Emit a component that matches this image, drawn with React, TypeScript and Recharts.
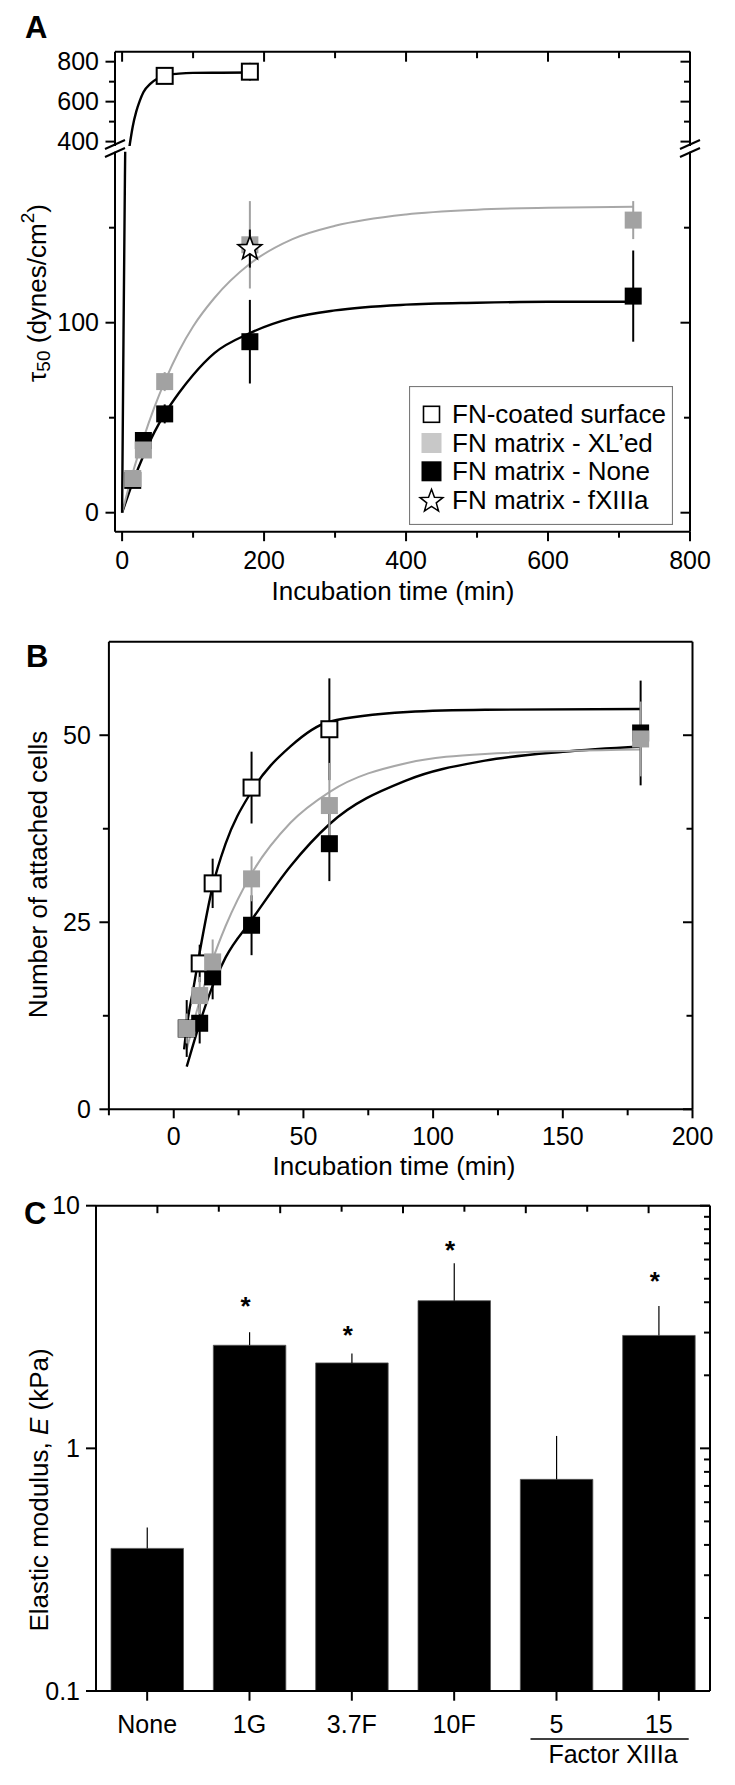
import React from "react";
import { ComposedChart, Line, Scatter, Bar, XAxis, YAxis, ErrorBar, Legend } from "recharts";

const FONT = '"Liberation Sans", Arial, Helvetica, sans-serif';
const INK = "#000";
const GREY = "#a2a2a2";
const GREY_FIT = "#a8a8a8";
const LEGEND_GREY = "#c8c8c8";

// ---------- Panel A: tau50 vs incubation time ----------
const aOpenT = [60, 180];
const aOpenV = [729, 750];
const aOpenE = [38, 44];
const aXlT = [15, 30, 60, 180, 720];
const aXlV = [18, 33, 69, 141, 154];
const aXlE = [4, 4, 5, 23, 10];
const aNoneT = [15, 30, 60, 180, 720];
const aNoneV = [17, 38, 52, 90, 114];
const aNoneE = [2, 3, 5, 22, 24];
const aFxT = [180];
const aFxV = [139];
const aFxE = [10];

const aOpenFitT = [0, 2, 4, 6, 8, 10, 12, 15, 20, 25, 30, 40, 50, 60, 80, 100, 140, 180];
const aOpenFitV = [0, 94, 177, 248, 313, 366, 413, 476, 551, 605, 647, 690, 716, 730, 740, 744, 745, 746];
const aFitT = [0, 15, 30, 45, 60, 80, 100, 130, 180, 240, 300, 400, 500, 600, 720];
const aXlFitV = [0, 21, 39, 55, 69, 85, 98, 113, 131, 144, 151, 157, 159.5, 160.5, 161];
const aNoneFitV = [0, 16, 30, 42, 52, 63, 72.5, 84, 94.5, 102.5, 106.5, 109.5, 110.5, 111, 111];

const aXTicks = [0, 100, 200, 300, 400, 500, 600, 700, 800];
const aXLabels = [0, 200, 400, 600, 800];
const aUpTicks = [400, 500, 600, 700, 800];
const aUpLabels = [400, 600, 800];
const aLoTicks = [0, 50, 100, 150];
const aLoLabels = [0, 100];
const aLegendNames = ["FN-coated surface", "FN matrix - XL\u2019ed", "FN matrix - None", "FN matrix - fXIIIa"];

// ---------- Panel B: attached cells vs incubation time ----------
const bOpenT = [5, 10, 15, 30, 60];
const bOpenV = [10.8, 19.5, 30.2, 43, 50.8];
const bOpenE = [3.8, 2.5, 3.3, 4.8, 6.8];
const bXlT = [5, 10, 15, 30, 60, 180];
const bXlV = [10.8, 15.2, 19.7, 30.8, 40.6, 49.5];
const bXlE = [2, 2.5, 3, 3, 5.7, 5];
const bNoneT = [10, 15, 30, 60, 180];
const bNoneV = [11.5, 17.7, 24.6, 35.5, 50.3];
const bNoneE = [2.7, 3, 4, 5, 7];

const bOpenFitT = [4, 5, 7.5, 10, 15, 20, 30, 45, 60, 90, 120, 180];
const bOpenFitV = [8, 11, 16, 21, 29.8, 35.5, 42.5, 48.5, 51.8, 53.1, 53.4, 53.5];
const bXlFitT = [5, 10, 15, 20, 30, 45, 60, 90, 120, 180];
const bXlFitV = [8, 14.5, 20, 24.5, 31.5, 38.3, 42.4, 46.3, 47.5, 48.1];
const bNoneFitT = [5, 10, 15, 20, 30, 45, 60, 90, 120, 150, 180];
const bNoneFitV = [5.7, 11.5, 16.5, 20.3, 25.3, 32.5, 38.1, 44, 46.6, 47.8, 48.5];

const bXTicks = [-25, 0, 25, 50, 75, 100, 125, 150, 175, 200];
const bXLabels = [0, 50, 100, 150, 200];
const bYTicks = [0, 12.5, 25, 37.5, 50];
const bYLabels = [0, 25, 50];

// ---------- Panel C: elastic modulus ----------
const cCats = ["None", "1G", "3.7F", "10F", "5", "15"];
const cMean = [0.387, 2.66, 2.25, 4.06, 0.745, 2.92];
const cErrUp = [0.085, 0.35, 0.21, 1.73, 0.38, 0.94];
const cSig = [null, 4.05, 3.07, 6.9, null, 5.15];
const cYLabels = [0.1, 1, 10];
const cYTicks = [0.1, 0.2, 0.3, 0.4, 0.5, 0.6, 0.7, 0.8, 0.9, 1, 2, 3, 4, 5, 6, 7, 8, 9, 10];
const cTopTicks = [0.5, 1, 1.5, 2, 2.5, 3, 3.5, 4, 4.5, 5, 5.5];
const cTopMajor = [0.5, 1.5, 2.5, 3.5, 4.5, 5.5];

const pts = (t: number[], v: number[], e?: number[]) => t.map((x, i) => ({ t: x, v: v[i], e: e ? e[i] : 0 }));
const cData = cCats.map((name, i) => ({ name, mean: cMean[i], err: [0, cErrUp[i]], sig: cSig[i] }));

type Side = "left" | "right" | "top" | "bottom";
function tickMaker(side: Side, majors: any[], o: { major?: number; minor?: number; gap?: number; size?: number; show?: boolean } = {}) {
  const major = o.major ?? 9;
  const minor = o.minor ?? 6;
  const gap = o.gap ?? 16;
  const size = o.size ?? 25;
  const show = o.show ?? true;
  return (p: any) => {
    const { x, y, payload } = p;
    const v = payload?.value;
    const isMajor = majors.includes(v);
    const len = isMajor ? major : minor;
    let line: React.ReactNode = null;
    let label: React.ReactNode = null;
    if (side === "left") {
      line = <line x1={x - len} x2={x} y1={y} y2={y} stroke={INK} strokeWidth={2} />;
      if (show && isMajor)
        label = <text x={x - gap} y={y} dy="0.35em" textAnchor="end" fontSize={size} fontFamily={FONT} fill={INK}>{String(v)}</text>;
    } else if (side === "right") {
      line = <line x1={x} x2={x - len} y1={y} y2={y} stroke={INK} strokeWidth={2} />;
    } else if (side === "top") {
      line = <line x1={x} x2={x} y1={y} y2={y + len} stroke={INK} strokeWidth={2} />;
    } else {
      line = <line x1={x} x2={x} y1={y} y2={y + len} stroke={INK} strokeWidth={2} />;
      if (show && isMajor)
        label = <text x={x} y={y + gap} textAnchor="middle" fontSize={size} fontFamily={FONT} fill={INK}>{String(v)}</text>;
    }
    return <g>{line}{label}</g>;
  };
}

const square = (fill: string, stroke?: string) => (p: any) =>
  p.cx == null || p.cy == null ? <g /> : stroke ? (
    <rect x={p.cx - 8} y={p.cy - 8} width={16} height={16} fill={fill} stroke={stroke} strokeWidth={2} />
  ) : (
    <rect x={p.cx - 8.5} y={p.cy - 8.5} width={17} height={17} fill={fill} />
  );

function starPoints(cx: number, cy: number, R: number, r: number) {
  const out: string[] = [];
  for (let i = 0; i < 10; i++) {
    const rad = i % 2 === 0 ? R : r;
    const a = -Math.PI / 2 + (i * Math.PI) / 5;
    out.push(`${cx + rad * Math.cos(a)},${cy + rad * Math.sin(a)}`);
  }
  return out.join(" ");
}
const star = (p: any) => <polygon points={starPoints(p.cx, p.cy, 12.5, 5.2)} fill="#fff" stroke={INK} strokeWidth={1.6} />;

const asterisk = (p: any) =>
  p.payload?.sig == null ? <g /> : (
    <text x={p.cx - 4} y={p.cy + 14} textAnchor="middle" fontSize={26} fontWeight={700} fontFamily={FONT} fill={INK}>*</text>
  );

const axisLine = { stroke: INK, strokeWidth: 2 };

function ALegend() {
  const rows = [414, 442.7, 471, 500].map((y) => y - 385.7);
  return (
    <svg width={264} height={139} style={{ display: "block" }}>
      <rect x={0.5} y={0.5} width={263} height={138} fill="#fff" stroke="#7a7a7a" strokeWidth={1.2} />
      {aLegendNames.map((n, i) => {
        const cy = rows[i];
        let sym: React.ReactNode;
        if (i === 0) sym = <rect x={14.5} y={cy - 8} width={16} height={16} fill="#fff" stroke={INK} strokeWidth={1.6} />;
        else if (i === 1) sym = <rect x={12.5} y={cy - 10} width={20} height={20} fill={LEGEND_GREY} />;
        else if (i === 2) sym = <rect x={12.5} y={cy - 10} width={20} height={20} fill={INK} />;
        else sym = <polygon points={starPoints(22.5, cy + 1, 12, 5)} fill="#fff" stroke={INK} strokeWidth={1.5} />;
        return (
          <g key={n}>
            {sym}
            <text x={43} y={cy} dy="0.35em" fontSize={26} fontFamily={FONT} fill={INK}>{n}</text>
          </g>
        );
      })}
    </svg>
  );
}

// upper part of the broken axis (plot ends at y=146, extra bottom margin keeps the "400" label visible)
function PanelATop() {
  return (
    <ComposedChart width={735} height={164} margin={{ top: 0, right: 0, bottom: 18, left: 0 }}>
      <XAxis xAxisId="x" orientation="top" type="number" dataKey="t" domain={[-10, 800]} allowDataOverflow
        ticks={aXTicks} interval={0} height={51.7} tickSize={0} tickMargin={0} tickLine={false}
        tick={tickMaker("top", aXLabels, { major: 10, minor: 6.5 })} axisLine={axisLine} />
      <YAxis yAxisId="y" type="number" dataKey="v" domain={[378, 850]} allowDataOverflow width={115}
        ticks={aUpTicks} interval={0} tickSize={0} tickMargin={0} tickLine={false}
        tick={tickMaker("left", aUpLabels, { major: 9.5, minor: 6, gap: 16 })} axisLine={axisLine} />
      <YAxis yAxisId="r" orientation="right" type="number" domain={[378, 850]} allowDataOverflow width={45}
        ticks={aUpTicks} interval={0} tickSize={0} tickMargin={0} tickLine={false}
        tick={tickMaker("right", aUpLabels, { major: 9.5, minor: 6 })} axisLine={axisLine} />
      <Line xAxisId="x" yAxisId="y" data={pts(aOpenFitT, aOpenFitV)} dataKey="v" type="monotone" stroke={INK}
        strokeWidth={2.4} dot={false} isAnimationActive={false} />
      <Scatter xAxisId="x" yAxisId="y" data={pts(aOpenT, aOpenV, aOpenE)} dataKey="v" shape={square("#fff", INK)} isAnimationActive={false}>
        <ErrorBar dataKey="e" direction="y" width={0} stroke={INK} strokeWidth={2} />
      </Scatter>
    </ComposedChart>
  );
}

function PanelABottom() {
  return (
    <ComposedChart width={735} height={480} margin={{ top: 5.7, right: 0, bottom: 0, left: 0 }}>
      <XAxis xAxisId="x" type="number" dataKey="t" domain={[-10, 800]} allowDataOverflow
        ticks={aXTicks} interval={0} height={94.3} tickSize={0} tickMargin={0} tickLine={false}
        tick={tickMaker("bottom", aXLabels, { major: 9.5, minor: 6, gap: 37.6 })} axisLine={axisLine} />
      <YAxis yAxisId="y" type="number" dataKey="v" domain={[-10, 190]} allowDataOverflow width={115}
        ticks={aLoTicks} interval={0} tickSize={0} tickMargin={0} tickLine={false}
        tick={tickMaker("left", aLoLabels, { major: 9.5, minor: 6, gap: 16 })} axisLine={axisLine} />
      <YAxis yAxisId="r" orientation="right" type="number" domain={[-10, 190]} allowDataOverflow width={45}
        ticks={aLoTicks} interval={0} tickSize={0} tickMargin={0} tickLine={false}
        tick={tickMaker("right", aLoLabels, { major: 9.5, minor: 6 })} axisLine={axisLine} />
      <Line xAxisId="x" yAxisId="y" data={pts(aFitT, aNoneFitV)} dataKey="v" type="monotone" stroke={INK}
        strokeWidth={2.4} dot={false} isAnimationActive={false} />
      <Line xAxisId="x" yAxisId="y" data={pts(aFitT, aXlFitV)} dataKey="v" type="monotone" stroke={GREY_FIT}
        strokeWidth={2} dot={false} isAnimationActive={false} />
      <Line xAxisId="x" yAxisId="y" data={pts(aOpenFitT, aOpenFitV)} dataKey="v" type="monotone" stroke={INK}
        strokeWidth={2.4} dot={false} isAnimationActive={false} />
      <Scatter xAxisId="x" yAxisId="y" data={pts(aNoneT, aNoneV, aNoneE)} dataKey="v" shape={square(INK)} isAnimationActive={false}>
        <ErrorBar dataKey="e" direction="y" width={0} stroke={INK} strokeWidth={2} />
      </Scatter>
      <Scatter xAxisId="x" yAxisId="y" data={pts(aXlT, aXlV, aXlE)} dataKey="v" shape={square(GREY)} isAnimationActive={false}>
        <ErrorBar dataKey="e" direction="y" width={0} stroke={GREY} strokeWidth={2} />
      </Scatter>
      <Scatter xAxisId="x" yAxisId="y" data={pts(aFxT, aFxV, aFxE)} dataKey="v" shape={star} isAnimationActive={false}>
        <ErrorBar dataKey="e" direction="y" width={0} stroke={INK} strokeWidth={2} />
      </Scatter>
      <Legend layout="vertical" align="center" verticalAlign="middle" content={() => <ALegend />}
        wrapperStyle={{ left: 408.5, top: 385.7 - 146, width: 264, height: 139 }} />
    </ComposedChart>
  );
}

function PanelB() {
  return (
    <ComposedChart width={735} height={564} margin={{ top: 0, right: 0, bottom: 0, left: 0 }}>
      <XAxis xAxisId="x" type="number" dataKey="t" domain={[-25, 200]} allowDataOverflow
        ticks={bXTicks} interval={0} height={80.7} tickSize={0} tickMargin={0} tickLine={false}
        tick={tickMaker("bottom", bXLabels, { major: 9, minor: 6, gap: 35.7 })} axisLine={axisLine} />
      <XAxis xAxisId="xt" orientation="top" type="number" domain={[-25, 200]} allowDataOverflow
        ticks={bXTicks} interval={0} height={15.7} tickSize={0} tickMargin={0} tickLine={false}
        tick={tickMaker("top", bXLabels, { major: 9, minor: 7 })} axisLine={axisLine} />
      <YAxis yAxisId="y" type="number" dataKey="v" domain={[0, 62.5]} allowDataOverflow width={108.9}
        ticks={bYTicks} interval={0} tickSize={0} tickMargin={0} tickLine={false}
        tick={tickMaker("left", bYLabels, { major: 9.5, minor: 6, gap: 18 })} axisLine={axisLine} />
      <YAxis yAxisId="r" orientation="right" type="number" domain={[0, 62.5]} allowDataOverflow width={42.5}
        ticks={bYTicks} interval={0} tickSize={0} tickMargin={0} tickLine={false}
        tick={tickMaker("right", bYLabels, { major: 9.5, minor: 6 })} axisLine={axisLine} />
      <Line xAxisId="x" yAxisId="y" data={pts(bNoneFitT, bNoneFitV)} dataKey="v" type="monotone" stroke={INK}
        strokeWidth={2.4} dot={false} isAnimationActive={false} />
      <Line xAxisId="x" yAxisId="y" data={pts(bXlFitT, bXlFitV)} dataKey="v" type="monotone" stroke={GREY_FIT}
        strokeWidth={2} dot={false} isAnimationActive={false} />
      <Line xAxisId="x" yAxisId="y" data={pts(bOpenFitT, bOpenFitV)} dataKey="v" type="monotone" stroke={INK}
        strokeWidth={2.4} dot={false} isAnimationActive={false} />
      <Scatter xAxisId="x" yAxisId="y" data={pts(bNoneT, bNoneV, bNoneE)} dataKey="v" shape={square(INK)} isAnimationActive={false}>
        <ErrorBar dataKey="e" direction="y" width={0} stroke={INK} strokeWidth={2} />
      </Scatter>
      <Scatter xAxisId="x" yAxisId="y" data={pts(bOpenT, bOpenV, bOpenE)} dataKey="v" shape={square("#fff", INK)} isAnimationActive={false}>
        <ErrorBar dataKey="e" direction="y" width={0} stroke={INK} strokeWidth={2} />
      </Scatter>
      <Scatter xAxisId="x" yAxisId="y" data={pts(bXlT, bXlV, bXlE)} dataKey="v" shape={square(GREY)} isAnimationActive={false}>
        <ErrorBar dataKey="e" direction="y" width={0} stroke={GREY} strokeWidth={2} />
      </Scatter>
    </ComposedChart>
  );
}

function PanelC() {
  return (
    <ComposedChart width={735} height={595} data={cData} margin={{ top: 0, right: 0, bottom: 0, left: 0 }}>
      <XAxis xAxisId="x" dataKey="name" type="category" height={94} interval={0} tickSize={0} tickMargin={0}
        tickLine={false} tick={tickMaker("bottom", cCats, { major: 9.7, gap: 42.3 })} axisLine={axisLine} />
      <XAxis xAxisId="xt" orientation="top" type="number" domain={[0, 6]} allowDataOverflow ticks={cTopTicks}
        interval={0} height={15.7} tickSize={0} tickMargin={0} tickLine={false}
        tick={tickMaker("top", cTopMajor, { major: 7.5, minor: 6 })} axisLine={axisLine} />
      <YAxis yAxisId="y" scale="log" type="number" domain={[0.1, 10]} allowDataOverflow width={96}
        ticks={cYLabels} interval={0} tickSize={0} tickMargin={0} tickLine={false}
        tick={tickMaker("left", cYLabels, { major: 10, gap: 16 })} axisLine={axisLine} />
      <YAxis yAxisId="r" orientation="right" scale="log" type="number" domain={[0.1, 10]} allowDataOverflow width={25}
        ticks={cYTicks} interval={0} tickSize={0} tickMargin={0} tickLine={false}
        tick={tickMaker("right", cYLabels, { major: 10, minor: 6 })} axisLine={axisLine} />
      <Bar xAxisId="x" yAxisId="y" dataKey="mean" barSize={72.5} fill={INK} stroke="#555" strokeWidth={0.8} isAnimationActive={false}>
        <ErrorBar dataKey="err" direction="y" width={0} stroke={INK} strokeWidth={1.2} />
      </Bar>
      <Scatter xAxisId="x" yAxisId="y" dataKey="sig" shape={asterisk} isAnimationActive={false} />
    </ComposedChart>
  );
}

export default function App() {
  const t = { fontFamily: FONT, fill: INK } as const;
  return (
    <div style={{ position: "relative", width: 735, height: 1785, background: "#fff", overflow: "hidden" }}>
      <style>{`body{margin:0;background:#fff}`}</style>
      <div style={{ position: "absolute", left: 0, top: 0 }}><PanelATop /></div>
      <div style={{ position: "absolute", left: 0, top: 146 }}><PanelABottom /></div>
      <div style={{ position: "absolute", left: 0, top: 626 }}><PanelB /></div>
      <div style={{ position: "absolute", left: 0, top: 1190 }}><PanelC /></div>
      <svg width={735} height={1785} style={{ position: "absolute", left: 0, top: 0, pointerEvents: "none" }}>
        <g fontFamily={FONT} fontWeight={700} fontSize={31} fill={INK}>
          <text x={25} y={38}>A</text>
          <text x={26} y={667}>B</text>
          <text x={24} y={1224}>C</text>
        </g>
        {/* axis breaks */}
        <g stroke={INK} strokeWidth={2}>
          <line x1={105} y1={149} x2={125} y2={140} />
          <line x1={105} y1={157} x2={125} y2={148} />
          <line x1={680} y1={149} x2={700} y2={140} />
          <line x1={680} y1={157} x2={700} y2={148} />
        </g>
        <text x={393} y={600} textAnchor="middle" fontSize={26} {...t}>Incubation time (min)</text>
        <text transform="rotate(-90 37 293)" x={37} y={293} textAnchor="middle" dominantBaseline="central" fontSize={26} {...t}>
          {"\u03C4"}<tspan fontSize={19} dy={6}>50</tspan><tspan dy={-6}>{" (dynes/cm"}</tspan><tspan fontSize={19} dy={-10}>2</tspan><tspan dy={10}>)</tspan>
        </text>
        <text x={394} y={1175} textAnchor="middle" fontSize={26} {...t}>Incubation time (min)</text>
        <text transform="rotate(-90 38 874.5)" x={38} y={874.5} textAnchor="middle" dominantBaseline="central" fontSize={26} {...t}>Number of attached cells</text>
        <text transform="rotate(-90 39 1490)" x={39} y={1490} textAnchor="middle" dominantBaseline="central" fontSize={26} {...t}>
          Elastic modulus, <tspan fontStyle="italic">E</tspan> (kPa)
        </text>
        <line x1={530.5} y1={1739} x2={688.7} y2={1739} stroke={INK} strokeWidth={1.5} />
        <text x={613} y={1763} textAnchor="middle" fontSize={25} {...t}>Factor XIIIa</text>
      </svg>
    </div>
  );
}
